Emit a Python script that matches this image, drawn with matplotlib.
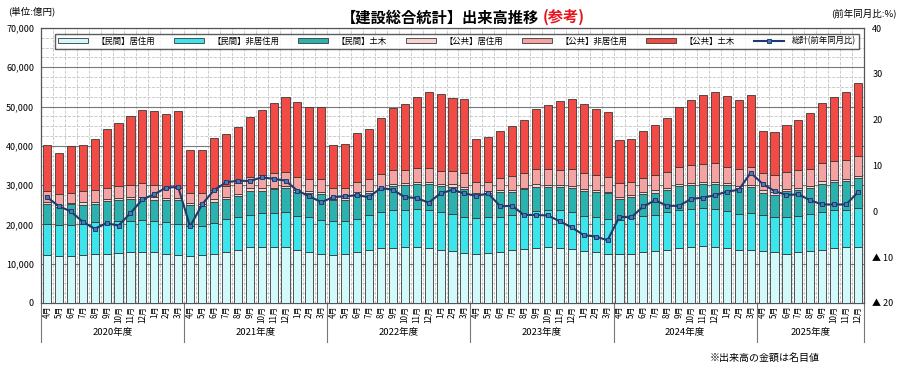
import matplotlib.pyplot as plt
import matplotlib.transforms as mtransforms
from matplotlib.ticker import MultipleLocator, FuncFormatter
import numpy as np

plt.rcParams['font.family'] = ['Noto Sans CJK JP', 'DejaVu Sans']

# 年度・月
fiscal_years = ['2020年度', '2021年度', '2022年度', '2023年度', '2024年度', '2025年度']
months_per_year = [12, 12, 12, 12, 12, 9]
month_names = ['4月', '5月', '6月', '7月', '8月', '9月', '10月', '11月', '12月', '1月', '2月', '3月']
months = []
for n in months_per_year:
    months += month_names[:n]

# 出来高(億円)
priv_res = [12100, 11900, 11900, 12200, 12500, 12600, 12800, 13000, 13100, 12900, 12500, 12300,
            12000, 12200, 12600, 13100, 13600, 14200, 14300, 14200, 14200, 13600, 13000, 12500,
            12300, 12400, 12900, 13400, 13900, 14100, 14200, 14200, 14100, 13600, 13200, 12800,
            12600, 12800, 13100, 13500, 13800, 14100, 14200, 14100, 13700, 13300, 12900, 12500,
            12400, 12500, 12900, 13200, 13600, 14100, 14200, 14500, 14300, 13900, 13400, 13600,
            13300, 13000, 12600, 12900, 13300, 13600, 14000, 14200, 14300]
priv_nonres = [8000, 7900, 7900, 7800, 8000, 7800, 8100, 8000, 8000, 8000, 8200, 7700,
               7500, 7400, 7800, 8200, 8300, 8200, 8500, 8800, 8900, 8600, 8800, 8700,
               8500, 8500, 8600, 8900, 9200, 9500, 9600, 9700, 9700, 9600, 9400, 9200,
               9000, 9000, 8800, 8900, 8800, 9400, 9500, 9500, 9400, 8800, 9100, 9000,
               8700, 9200, 9200, 9300, 9500, 9500, 9800, 9700, 9700, 9400, 9300, 9200,
               9200, 9000, 9300, 9300, 9400, 9500, 9600, 9600, 9800]
priv_civil = [5100, 4700, 5300, 4900, 4800, 5500, 5200, 5400, 5300, 5300, 5600, 6300,
              5400, 5100, 5400, 5300, 5400, 6200, 5800, 5900, 6300, 6100, 6100, 6600,
              5400, 5200, 6300, 5700, 5800, 6300, 6200, 6300, 6500, 6600, 7000, 7100,
              5800, 6100, 6400, 5900, 6300, 6100, 5800, 5900, 6300, 6500, 6300, 6400,
              5500, 5200, 5700, 5600, 5600, 6100, 6000, 6100, 6400, 6700, 6600, 6800,
              5600, 5600, 6500, 6500, 6700, 7300, 7100, 7200, 7600]
pub_res = [600, 500, 400, 700, 500, 600, 600, 600, 700, 700, 500, 500,
           500, 500, 600, 400, 500, 600, 600, 400, 400, 500, 500, 500,
           400, 600, 500, 400, 400, 500, 600, 500, 500, 400, 600, 500,
           500, 500, 500, 500, 500, 600, 500, 500, 500, 500, 400, 400,
           400, 500, 500, 600, 600, 500, 600, 600, 500, 500, 500, 500,
           600, 600, 500, 500, 500, 600, 600, 600, 600]
pub_nonres = [2800, 2700, 2600, 2900, 3000, 2900, 3000, 3100, 3400, 3100, 2600, 2500,
              2500, 2800, 2400, 2900, 2800, 2900, 3400, 3700, 3600, 3200, 3200, 3200,
              2700, 2700, 2500, 3100, 3500, 3500, 3300, 3700, 3600, 3500, 3400, 3500,
              2800, 2500, 3100, 3600, 3600, 3900, 4000, 3900, 4100, 3900, 3800, 3900,
              3500, 3500, 3600, 3800, 4000, 4400, 4600, 4500, 4700, 4200, 4300, 4400,
              4300, 4400, 4500, 4600, 4300, 4600, 4800, 4700, 5000]
pub_civil = [11500, 10600, 11800, 11800, 13000, 14900, 16000, 17400, 18700, 19000, 18700, 19500,
             11000, 11000, 13100, 13100, 14100, 15200, 16500, 17800, 19100, 19100, 18200, 18300,
             11000, 11100, 12600, 12800, 14200, 15800, 16800, 18100, 19300, 19400, 18600, 18800,
             11100, 11300, 12000, 12600, 13700, 15200, 16300, 17400, 17900, 17600, 16800, 16400,
             10900, 10900, 12000, 12700, 13700, 15400, 16500, 17500, 18100, 18100, 17600, 18400,
             10900, 11000, 12000, 12900, 14200, 15200, 16400, 17500, 18800]

# 総計 前年同月比(%)
total_yoy = [3.1, 1.1, 0.0, -2.3, -3.8, -2.6, -3.1, -0.4, 2.6, 3.7, 5.2, 5.3,
             -3.3, 1.5, 4.6, 6.3, 6.7, 6.6, 7.4, 7.1, 6.7, 4.5, 3.3, 2.0,
             3.1, 3.3, 3.5, 3.1, 5.1, 4.7, 3.1, 2.9, 1.9, 3.9, 4.7, 3.9,
             3.4, 3.9, 1.1, 1.2, -0.8, -0.8, -0.9, -2.2, -3.5, -5.2, -5.5, -6.3,
             -1.2, -1.3, 1.1, 2.4, 1.2, 1.2, 2.7, 3.0, 3.5, 4.3, 4.7, 8.4,
             6.0, 4.4, 3.6, 3.7, 2.4, 1.5, 1.5, 1.5, 4.2]

series = [
    ('【民間】居住用', priv_res, '#d2fafa'),
    ('【民間】非居住用', priv_nonres, '#3ce4ec'),
    ('【民間】土木', priv_civil, '#2cb2ae'),
    ('【公共】居住用', pub_res, '#fbd2d2'),
    ('【公共】非居住用', pub_nonres, '#f5a2a2'),
    ('【公共】土木', pub_civil, '#f24a44'),
]

x = np.arange(len(months))

fig = plt.figure(figsize=(9.02, 3.68), dpi=100)
ax = fig.add_axes([41 / 902, 1 - 303 / 368, 823 / 902, 275 / 368])

bottom = np.zeros(len(x))
handles = []
for label, vals, color in series:
    b = ax.bar(x, vals, width=0.68, bottom=bottom, color=color,
               edgecolor='#3a3a3a', linewidth=0.6, label=label, zorder=3)
    handles.append(b)
    bottom += np.array(vals)

ax.set_xlim(-0.5, len(x) - 0.5)
ax.set_ylim(0, 70000)
ax.yaxis.set_major_locator(MultipleLocator(10000))
ax.yaxis.set_minor_locator(MultipleLocator(2500))
ax.set_xticks(x)
ax.set_xticklabels(months, rotation=90, fontsize=5.8, va='top')
ax.set_xticks(np.arange(len(x) + 1) - 0.5, minor=True)
ax.yaxis.set_major_formatter(FuncFormatter(lambda v, p: f'{int(v):,}'))
ax.tick_params(axis='y', which='major', labelsize=6.5, length=0, pad=5)
ax.tick_params(axis='x', which='major', length=0, pad=2)
ax.tick_params(which='minor', length=0)
ax.set_axisbelow(True)
ax.grid(which='major', axis='y', color='#7a7a7a', linewidth=0.8)
ax.grid(which='minor', axis='both', color='#c4c4c4', linewidth=0.6, linestyle='--')
for s in ax.spines.values():
    s.set_color('#555555')
    s.set_linewidth(0.9)

# 右軸: 前年同月比
ax2 = ax.twinx()
ax2.set_ylim(-20, 40)
ax2.set_yticks(range(-20, 41, 10))
ax2.yaxis.set_major_formatter(
    FuncFormatter(lambda v, p: f'▲ {int(-v)}' if v < 0 else f'{int(v)}'))
ax2.tick_params(axis='y', labelsize=6.5, length=0, pad=6)
line, = ax2.plot(x, total_yoy, color='#1f3a6e', linewidth=1.5, marker='s',
                 markersize=3.2, markerfacecolor='#4a78b0', markeredgecolor='#1f3a6e',
                 markeredgewidth=0.7, label='総計(前年同月比)', zorder=5)
for s in ax2.spines.values():
    s.set_visible(False)

# 年度の区切りと年度ラベル
trans = mtransforms.blended_transform_factory(ax.transData, ax.transAxes)
start = 0
bounds = [-0.5]
for fy, n in zip(fiscal_years, months_per_year):
    ax.text(start + (n - 1) / 2, -0.108, fy, transform=trans, ha='center', va='center',
            fontsize=6.8)
    start += n
    bounds.append(start - 0.5)
for b in bounds:
    ax.plot([b, b], [0, -0.142], transform=trans, color='#777777', linewidth=0.8,
            clip_on=False)

leg = ax2.legend(handles + [line], [h.get_label() for h in handles] + [line.get_label()],
                 loc='center', bbox_to_anchor=(0.017, 0.916, 0.977, 0.073), mode='expand',
                 ncol=7, fontsize=6, frameon=True, fancybox=False, handlelength=3.6,
                 handleheight=0.6, handletextpad=1.0, borderpad=0.35, borderaxespad=0)
leg.get_frame().set_edgecolor('#333333')
leg.get_frame().set_linewidth(1.0)
leg.get_frame().set_facecolor('white')
leg.set_zorder(10)

# タイトル・注記
fig.text(0.598, 0.953, '【建設総合統計】出来高推移', ha='right', va='center',
         fontsize=11, fontweight='bold', color='black')
fig.text(0.602, 0.953, '(参考)', ha='left', va='center',
         fontsize=11, fontweight='bold', color='#e8141c')
fig.text(0.009, 0.968, '(単位:億円)', ha='left', va='center', fontsize=6.8)
fig.text(0.994, 0.963, '(前年同月比:%)', ha='right', va='center', fontsize=6.8)
fig.text(0.787, 0.027, '※出来高の金額は名目値', ha='left', va='center', fontsize=7.2)

fig.savefig('out.png', dpi=100)
